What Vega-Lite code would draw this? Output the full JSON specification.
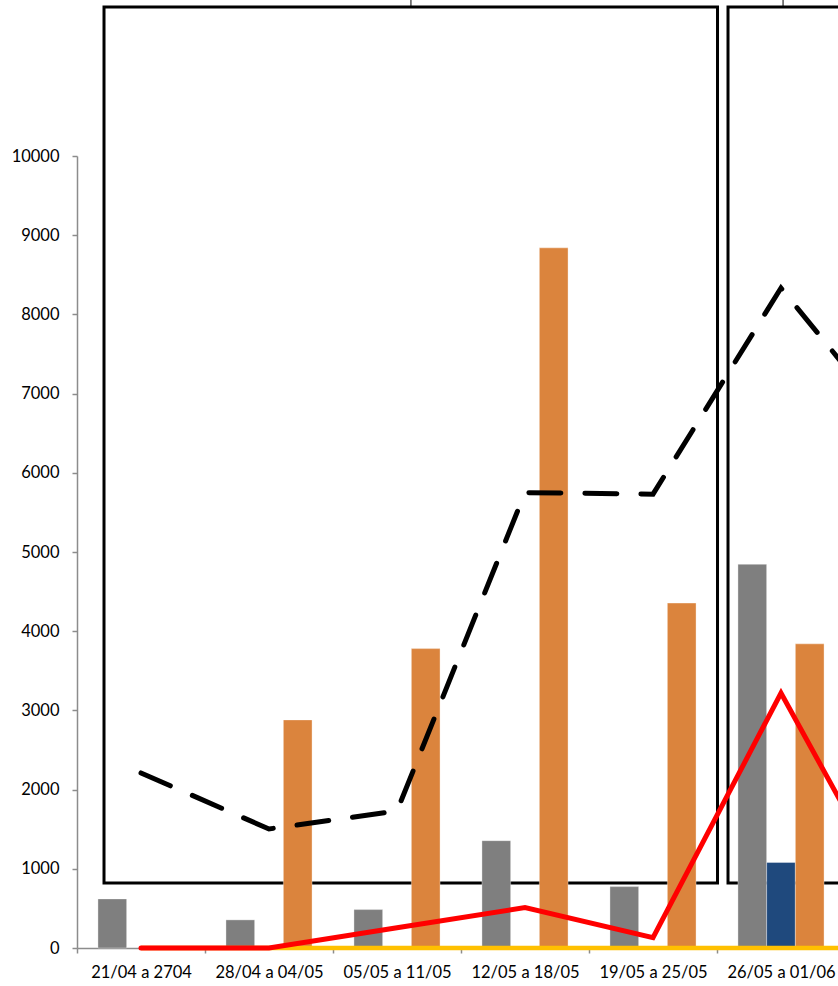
{
  "$schema": "https://vega.github.io/schema/vega-lite/v6.json",
  "width": 761,
  "height": 792,
  "autosize": {"type": "none"},
  "padding": {"left": 77, "top": 156, "right": 0, "bottom": 38},
  "background": "white",
  "config": {
    "view": {"stroke": null},
    "font": "Lato",
    "axis": {
      "grid": false,
      "domainColor": "#8c8c8c",
      "domainWidth": 1.5,
      "tickColor": "#8c8c8c",
      "tickWidth": 1.5,
      "tickSize": 5,
      "labelFont": "Lato",
      "labelFontSize": 16.5,
      "labelColor": "#000000",
      "title": null
    }
  },
  "datasets": {
    "bars": [
      {"semana": "21/04 a 2704", "serie": "Série 1", "valor": 620},
      {"semana": "28/04 a 04/05", "serie": "Série 1", "valor": 355},
      {"semana": "28/04 a 04/05", "serie": "Série 3", "valor": 2880},
      {"semana": "05/05 a 11/05", "serie": "Série 1", "valor": 485},
      {"semana": "05/05 a 11/05", "serie": "Série 3", "valor": 3780},
      {"semana": "12/05 a 18/05", "serie": "Série 1", "valor": 1355},
      {"semana": "12/05 a 18/05", "serie": "Série 3", "valor": 8840},
      {"semana": "19/05 a 25/05", "serie": "Série 1", "valor": 775},
      {"semana": "19/05 a 25/05", "serie": "Série 3", "valor": 4355},
      {"semana": "26/05 a 01/06", "serie": "Série 1", "valor": 4845},
      {"semana": "26/05 a 01/06", "serie": "Série 2", "valor": 1080},
      {"semana": "26/05 a 01/06", "serie": "Série 3", "valor": 3840}
    ],
    "lines": [
      {"semana": "21/04 a 2704", "serie": "Linha amarela", "valor": 0},
      {"semana": "28/04 a 04/05", "serie": "Linha amarela", "valor": 0},
      {"semana": "05/05 a 11/05", "serie": "Linha amarela", "valor": 0},
      {"semana": "12/05 a 18/05", "serie": "Linha amarela", "valor": 0},
      {"semana": "19/05 a 25/05", "serie": "Linha amarela", "valor": 0},
      {"semana": "26/05 a 01/06", "serie": "Linha amarela", "valor": 0},
      {"semana": "02/06 a 08/06", "serie": "Linha amarela", "valor": 0},
      {"semana": "21/04 a 2704", "serie": "Linha vermelha", "valor": 0},
      {"semana": "28/04 a 04/05", "serie": "Linha vermelha", "valor": 0},
      {"semana": "05/05 a 11/05", "serie": "Linha vermelha", "valor": 255},
      {"semana": "12/05 a 18/05", "serie": "Linha vermelha", "valor": 510},
      {"semana": "19/05 a 25/05", "serie": "Linha vermelha", "valor": 130},
      {"semana": "26/05 a 01/06", "serie": "Linha vermelha", "valor": 3220},
      {"semana": "02/06 a 08/06", "serie": "Linha vermelha", "valor": 280},
      {"semana": "21/04 a 2704", "serie": "Linha tracejada", "valor": 2210},
      {"semana": "28/04 a 04/05", "serie": "Linha tracejada", "valor": 1503},
      {"semana": "05/05 a 11/05", "serie": "Linha tracejada", "valor": 1730},
      {"semana": "12/05 a 18/05", "serie": "Linha tracejada", "valor": 5750},
      {"semana": "19/05 a 25/05", "serie": "Linha tracejada", "valor": 5730},
      {"semana": "26/05 a 01/06", "serie": "Linha tracejada", "valor": 8333},
      {"semana": "02/06 a 08/06", "serie": "Linha tracejada", "valor": 6350}
    ],
    "boxes": [
      {"x1": 0.211, "x2": 5.004, "y1": 821, "y2": 11880},
      {"x1": 5.086, "x2": 6.2, "y1": 821, "y2": 11880}
    ],
    "links": [
      {"x": 2.609, "y1": 11880, "y2": 12000},
      {"x": 5.516, "y1": 11880, "y2": 12000}
    ]
  },
  "layer": [
    {
      "data": {"name": "boxes"},
      "mark": {"type": "rect", "fill": null, "fillOpacity": 0, "stroke": "#000000", "strokeWidth": 3},
      "encoding": {
        "x": {"field": "x1", "type": "quantitative", "scale": {"domain": [0, 7], "range": [0, 896], "nice": false, "zero": false}, "axis": null},
        "x2": {"field": "x2"},
        "y": {"field": "y1", "type": "quantitative", "scale": {"domain": [0, 10000], "nice": false}},
        "y2": {"field": "y2"}
      }
    },
    {
      "data": {"name": "links"},
      "mark": {"type": "rule", "stroke": "#000000", "strokeWidth": 1},
      "encoding": {
        "x": {"field": "x", "type": "quantitative", "scale": {"domain": [0, 7], "range": [0, 896], "nice": false, "zero": false}, "axis": null},
        "y": {"field": "y1", "type": "quantitative", "scale": {"domain": [0, 10000], "nice": false}},
        "y2": {"field": "y2"}
      }
    },
    {
      "encoding": {
        "x": {
          "field": "semana",
          "type": "nominal",
          "sort": null,
          "scale": {
            "domain": ["21/04 a 2704", "28/04 a 04/05", "05/05 a 11/05", "12/05 a 18/05", "19/05 a 25/05", "26/05 a 01/06", "02/06 a 08/06"],
            "range": [0, 896],
            "paddingInner": 0,
            "paddingOuter": 0
          },
          "axis": {"labelAngle": 0, "tickBand": "extent", "labelPadding": 11}
        },
        "y": {
          "field": "valor",
          "type": "quantitative",
          "scale": {"domain": [0, 10000], "nice": false},
          "axis": {"values": [0, 1000, 2000, 3000, 4000, 5000, 6000, 7000, 8000, 9000, 10000], "labelPadding": 13, "format": "d"}
        }
      },
      "layer": [
        {
          "data": {"name": "bars"},
          "mark": {"type": "bar", "stroke": "#ffffff", "strokeOpacity": 0.35, "strokeWidth": 1},
          "encoding": {
            "xOffset": {"field": "serie", "type": "nominal", "scale": {"domain": ["Série 1", "Série 2", "Série 3"], "paddingInner": 0, "paddingOuter": 0.73}},
            "color": {"field": "serie", "type": "nominal", "scale": {"domain": ["Série 1", "Série 2", "Série 3"], "range": ["#7f7f7f", "#1f497d", "#db843d"]}, "legend": null}
          }
        },
        {
          "data": {"name": "lines"},
          "transform": [{"filter": "datum.serie === 'Linha amarela'"}],
          "mark": {"type": "line", "color": "#ffc000", "strokeWidth": 4.5},
          "encoding": {}
        },
        {
          "data": {"name": "lines"},
          "transform": [{"filter": "datum.serie === 'Linha vermelha'"}],
          "mark": {"type": "line", "color": "#ff0000", "strokeWidth": 5, "strokeCap": "round", "strokeJoin": "miter"},
          "encoding": {}
        },
        {
          "data": {"name": "lines"},
          "transform": [{"filter": "datum.serie === 'Linha tracejada'"}],
          "mark": {"type": "line", "color": "#000000", "strokeWidth": 5, "strokeDash": [32, 24], "strokeCap": "round"},
          "encoding": {}
        }
      ]
    }
  ],
  "resolve": {"scale": {"x": "independent"}}
}
